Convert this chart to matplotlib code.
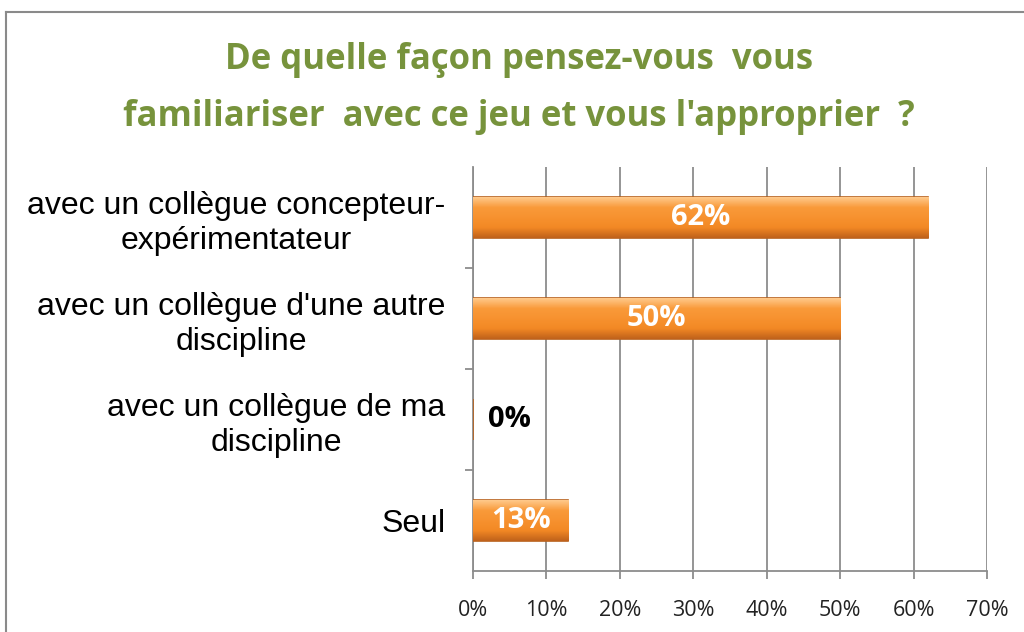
import numpy as np
import matplotlib
matplotlib.use("Agg")
from matplotlib import pyplot as plt
from matplotlib.lines import Line2D

categories = ["avec un collègue concepteur-\nexpérimentateur",
              "avec un collègue d'une autre\ndiscipline",
              "avec un collègue de ma\ndiscipline",
              "Seul"]
values = [62, 50, 0, 13]
labels = ["62%", "50%", "0%", "13%"]
xticks = [0, 10, 20, 30, 40, 50, 60, 70]

title = "De quelle façon pensez-vous  vous\nfamiliariser  avec ce jeu et vous l'approprier  ?"

fig = plt.figure(figsize=(10.24, 6.32), dpi=100)
ax = fig.add_axes([0.4619, 0.0965, 0.502, 0.6393])

# frame around the chart area (only left and top visible)
fig.add_artist(Line2D([6/1024, 6/1024], [0, 1 - 12/632], transform=fig.transFigure, color="#8a8a8a", lw=1.5))
fig.add_artist(Line2D([6/1024, 1], [1 - 12/632, 1 - 12/632], transform=fig.transFigure, color="#8a8a8a", lw=1.5))

y = np.arange(len(categories))[::-1]
bars = ax.barh(y, values, height=0.4, color="#f58a25", edgecolor="#b8611c", linewidth=1.2, zorder=3)

# vertical gradient on each bar
grad = np.linspace(0, 1, 64).reshape(-1, 1)
cmap = matplotlib.colors.LinearSegmentedColormap.from_list(
    "orange", ["#c0621b", "#f28824", "#f7922f", "#f99a3a", "#ffc98a"])
for b in bars:
    if b.get_width() <= 0:
        continue
    x0, y0 = b.get_x(), b.get_y()
    im = ax.imshow(grad, extent=(x0, x0 + b.get_width(), y0, y0 + b.get_height()),
                   aspect="auto", cmap=cmap, origin="lower", zorder=3.5)
    im.set_clip_path(b)

for b, v, lab in zip(bars, values, labels):
    cy = b.get_y() + b.get_height() / 2
    if v > 0:
        ax.text(v / 2, cy, lab, ha="center", va="center", color="white",
                fontsize=21, fontweight="bold", family="Open Sans", zorder=5)
    else:
        ax.text(2, cy, lab, ha="left", va="center", color="black",
                fontsize=21, fontweight="bold", family="Open Sans", zorder=5)

ax.set_xlim(0, 70)
ax.set_ylim(-0.5, len(categories) - 0.5)
ax.set_xticks(xticks)
ax.set_xticklabels([f"{t}%" for t in xticks], fontsize=15.5, family="Open Sans", color="#222222")
ax.xaxis.grid(True, color="#8c8c8c", lw=1.3, zorder=0)
ax.set_axisbelow(True)

ax.set_yticks(y)
ax.set_yticklabels(categories, fontsize=23, family="Liberation Sans", ha="right",
                   multialignment="center", linespacing=1.2)
ax.tick_params(axis="y", length=0, pad=20)
ax.set_yticks(np.arange(len(categories) - 1) + 0.5, minor=True)
ax.tick_params(axis="y", which="minor", length=6, color="#8c8c8c", width=1.3)
ax.tick_params(axis="x", length=6, color="#8c8c8c", width=1.3, pad=15)

for s in ["top", "right"]:
    ax.spines[s].set_visible(False)
for s in ["left", "bottom"]:
    ax.spines[s].set_color("#8c8c8c")
    ax.spines[s].set_linewidth(1.3)

fig.text(0.507, 0.86, title, ha="center", va="center", fontsize=25, fontweight="bold",
         color="#77933c", family="Open Sans", linespacing=1.78)

fig.savefig("out.png", dpi=100)
